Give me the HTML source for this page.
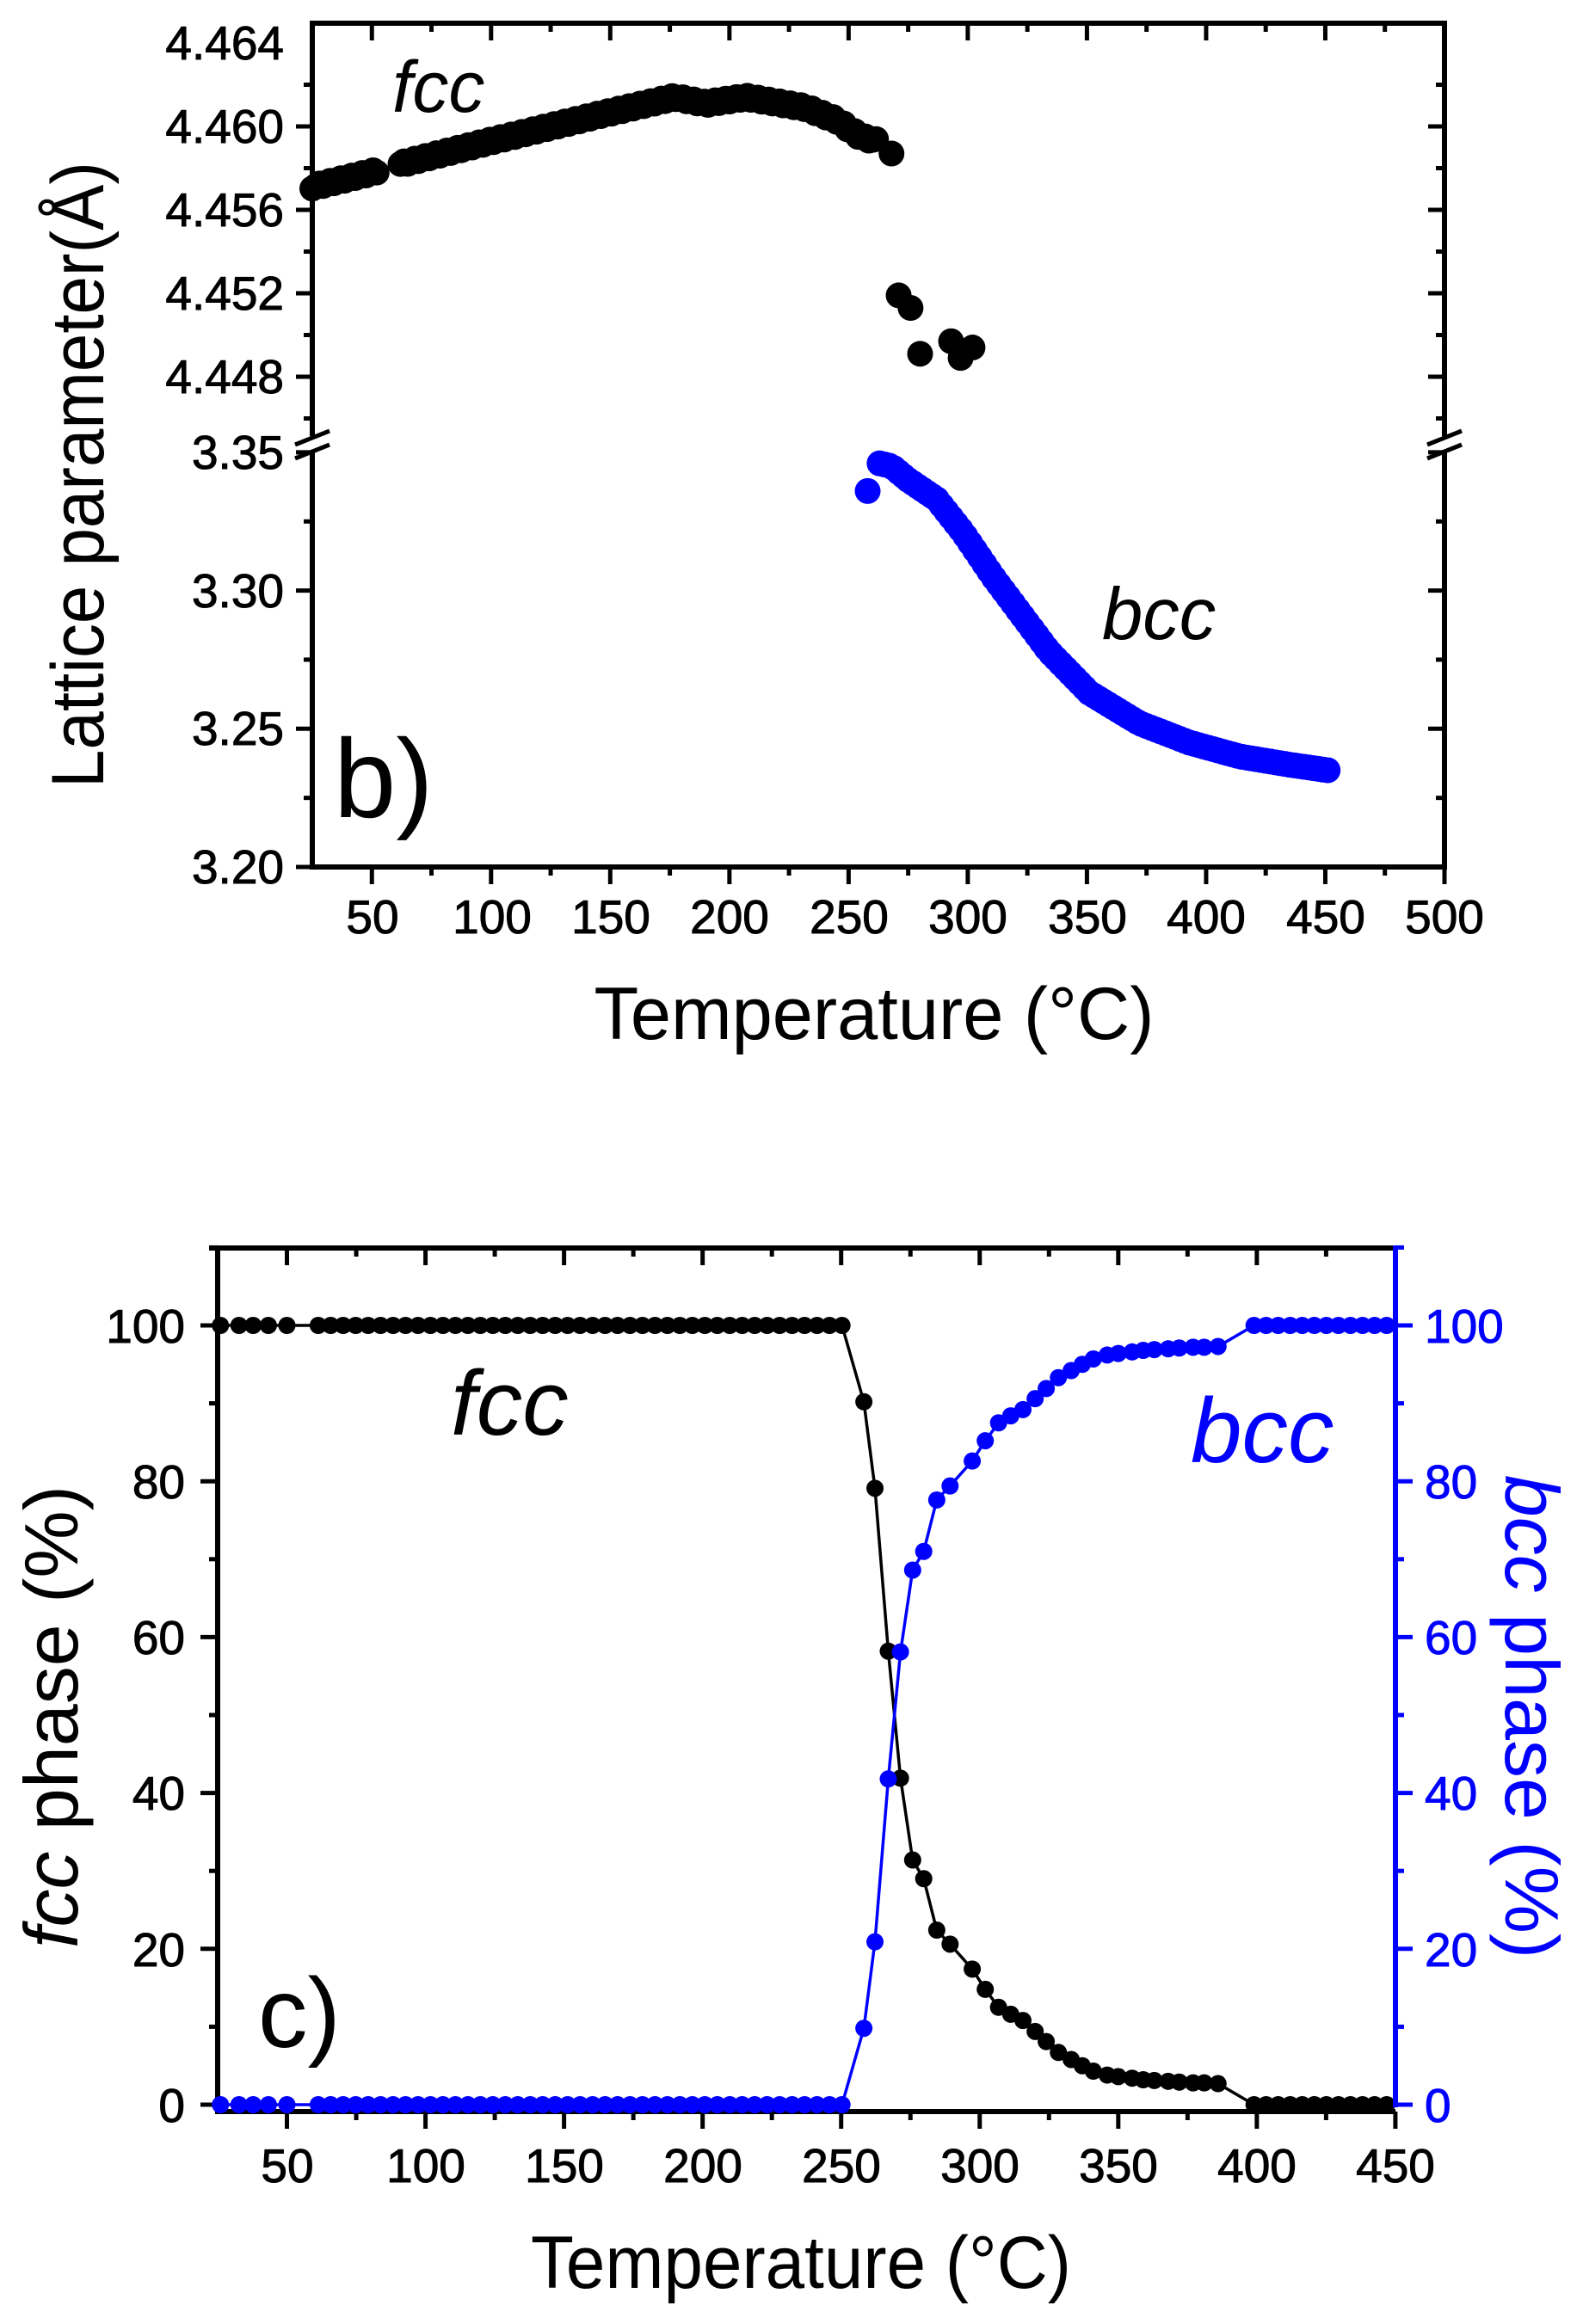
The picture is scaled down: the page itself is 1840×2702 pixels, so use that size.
<!DOCTYPE html>
<html><head><meta charset="utf-8"><style>
html,body{margin:0;padding:0;background:#fff;}
svg{display:block;font-family:"Liberation Sans",sans-serif;}
</style></head><body>
<svg id="s" width="1840" height="2702" viewBox="0 0 1840 2702" xmlns="http://www.w3.org/2000/svg">
<rect width="1840" height="2702" fill="#fff"/>
<g id="g"></g>
<!-- top plot text -->
<g font-size="55" fill="#000" stroke="#000" stroke-width="1" text-anchor="end">
<text x="330" y="69">4.464</text>
<text x="330" y="166">4.460</text>
<text x="330" y="263">4.456</text>
<text x="330" y="360">4.452</text>
<text x="330" y="457">4.448</text>
<text x="330" y="545">3.35</text>
<text x="330" y="706">3.30</text>
<text x="330" y="866">3.25</text>
<text x="330" y="1027">3.20</text>
</g>
<g font-size="55" fill="#000" stroke="#000" stroke-width="1" text-anchor="middle">
<text x="433" y="1085">50</text><text x="572" y="1085">100</text><text x="710" y="1085">150</text>
<text x="848" y="1085">200</text><text x="987" y="1085">250</text><text x="1125" y="1085">300</text>
<text x="1264" y="1085">350</text><text x="1402" y="1085">400</text><text x="1541" y="1085">450</text>
<text x="1679" y="1085">500</text>
</g>
<text x="1016" y="1208" font-size="86" text-anchor="middle" textLength="651" lengthAdjust="spacingAndGlyphs">Temperature (°C)</text>
<text transform="translate(120,552) rotate(-90)" font-size="86" text-anchor="middle" textLength="728" lengthAdjust="spacingAndGlyphs">Lattice parameter(Å)</text>
<text x="456" y="130" font-size="84" font-style="italic">fcc</text>
<text x="1281" y="743" font-size="85" font-style="italic">bcc</text>
<text x="388" y="950" font-size="130">b)</text>
<!-- bottom plot text -->
<g font-size="55" fill="#000" stroke="#000" stroke-width="1" text-anchor="end">
<text x="215" y="1561">100</text><text x="215" y="1742">80</text><text x="215" y="1923">60</text>
<text x="215" y="2104">40</text><text x="215" y="2286">20</text><text x="215" y="2467">0</text>
</g>
<g font-size="55" fill="#00f" stroke="#00f" stroke-width="1">
<text x="1656" y="1561">100</text><text x="1656" y="1742">80</text><text x="1656" y="1923">60</text>
<text x="1656" y="2104">40</text><text x="1656" y="2286">20</text><text x="1656" y="2467">0</text>
</g>
<g font-size="55" fill="#000" stroke="#000" stroke-width="1" text-anchor="middle">
<text x="334" y="2537">50</text><text x="495" y="2537">100</text><text x="656" y="2537">150</text>
<text x="817" y="2537">200</text><text x="978" y="2537">250</text><text x="1139" y="2537">300</text>
<text x="1300" y="2537">350</text><text x="1461" y="2537">400</text><text x="1622" y="2537">450</text>
</g>
<text x="931" y="2660" font-size="86" text-anchor="middle" textLength="628" lengthAdjust="spacingAndGlyphs">Temperature (°C)</text>
<text transform="translate(90,1996) rotate(-90)" font-size="88" text-anchor="middle"><tspan font-style="italic">fcc</tspan> phase (%)</text>
<text transform="translate(1750,1996) rotate(90)" font-size="88" text-anchor="middle" fill="#00f"><tspan font-style="italic">bcc</tspan> phase (%)</text>
<text x="524" y="1668" font-size="107" font-style="italic">fcc</text>
<text x="1384" y="1700" font-size="107" font-style="italic" fill="#00f">bcc</text>
<text x="300" y="2380" font-size="115">c)</text>
</svg>
<script>
var g=document.getElementById('g'),NS="http://www.w3.org/2000/svg";
function el(t,a){var e=document.createElementNS(NS,t);for(var k in a)e.setAttribute(k,a[k]);g.appendChild(e);return e;}
function ln(x1,y1,x2,y2,c,w){el('line',{x1:x1,y1:y1,x2:x2,y2:y2,stroke:c||'#000','stroke-width':w||6});}
function interp(pts,t){for(var i=0;i<pts.length-1;i++){if(t<=pts[i+1][0]){var a=pts[i],b=pts[i+1];return a[1]+(b[1]-a[1])*(t-a[0])/(b[0]-a[0]);}}return pts[pts.length-1][1];}
var L=363,R=1679,T=27,B=1008;
function X(t){return L+(t-25)*2.7705;}
function YH(v){return 147-(v-4.460)/0.004*97;}
function YL(v){return 1008-(v-3.20)/0.05*160.7;}
var fcc=[[25,4.4571],[50,4.4578],[62,4.4582],[100,4.4593],[147,4.4606],[177,4.4614],[190,4.4611],[207,4.4614],[232,4.4609],[245,4.4603],[255,4.4595],[262,4.4593]];
var k=0;
for(var t=25;t<=52;t+=1.5){el('circle',{cx:X(t),cy:YH(interp(fcc,t)+(k%3-1)*0.00008),r:15,fill:'#000'});k++;}
for(var t=62;t<=262;t+=1.5){el('circle',{cx:X(t),cy:YH(interp(fcc,t)+(k%3-1)*0.00008),r:15,fill:'#000'});k++;}
[[268,4.4587],[271,4.4519],[276,4.4513],[280,4.4491],[293,4.4497],[297,4.4489],[302,4.4494]].forEach(function(p){el('circle',{cx:X(p[0]),cy:YH(p[1]),r:15,fill:'#000'});});
var bcc=[[263,3.346],[268,3.345],[275,3.340],[287,3.333],[298,3.321],[310.6,3.305],[321,3.293],[334,3.278],[351,3.263],[372,3.252],[393,3.245],[414,3.240],[435,3.237],[451,3.235]];
el('circle',{cx:X(258),cy:YL(3.336),r:15,fill:'#00f'});
for(var t=263;t<=451;t+=2)el('circle',{cx:X(t),cy:YL(interp(bcc,t)),r:15,fill:'#00f'});
ln(L-3,T,R+3,T);ln(L-3,B,R+3,B);
ln(L,T,L,507);ln(L,525,L,B);ln(R,T,R,507);ln(R,525,R,B);
[L,R].forEach(function(x){ln(x-20,517,x+20,501,'#000',5);ln(x-20,533,x+20,517,'#000',5);});
for(var t=50;t<=500;t+=25){var maj=(t%50==0);ln(X(t),B,X(t),B+(maj?20:10),'#000',5);ln(X(t),T,X(t),T+(maj?20:10),'#000',5);}
for(var i=0;i<=8;i++){var vv=4.446+i*0.002,y=YH(vv),maj=(i%2==1);ln(L-(maj?19:10),y,L,y,'#000',5);ln(R,y,R-(maj?19:10),y,'#000',5);}
for(var i=0;i<=6;i++){var vv=3.20+i*0.025,y=YL(vv),maj=(i%2==0);ln(L-(maj?19:10),y,L,y,'#000',5);ln(R,y,R-(maj?19:10),y,'#000',5);}
var L2=253,R2=1622,T2=1451,B2=2455;
function X2(t){return L2+(t-25)*3.221;}
function Y2(v){return 2447-v*9.06;}
ln(L2-10,T2,R2,T2);ln(L2,T2,L2,B2+3);ln(L2,B2,R2,B2);
for(var t=50;t<=450;t+=25){var maj=(t%50==0);ln(X2(t),B2,X2(t),B2+(maj?20:10),'#000',5);ln(X2(t),T2,X2(t),T2+(maj?20:10),'#000',5);}
for(var v=0;v<=110;v+=10){var y=Y2(v),maj=(v%20==0);ln(L2-(maj?20:10),y,L2,y,'#000',5);}
var tail=[[258.2,90.2],[262.2,79.1],[267,58.2],[271.4,41.9],[275.8,31.4],[279.8,29],[284.5,22.4],[289.3,20.6],[297.3,17.4],[302,14.8],[306.8,12.5],[311.2,11.6],[315.6,10.8],[320,9.4],[324,8.1],[328.4,6.7],[333,5.8],[337,5.0],[341,4.3],[346,3.8],[350,3.6],[355,3.4],[359,3.2],[363,3.1],[368,3.0],[372,2.9],[377,2.8],[381,2.8],[386,2.7]];
var F=[];
[26,32.7,37.8,43.3,50].forEach(function(t){F.push([t,100]);});
for(var t=61.3;t<=254;t+=4.5)F.push([t,100]);
F=F.concat(tail);
for(var t=399;t<=451;t+=4.35)F.push([t,0]);
function path(c){var d='';for(var i=0;i<F.length;i++){var t=F[i][0],v=c?100-F[i][1]:F[i][1];d+=(i?'L':'M')+X2(t).toFixed(1)+','+Y2(v).toFixed(1);}el('path',{d:d,fill:'none',stroke:c?'#00f':'#000','stroke-width':3.5});}
path(0);path(1);
F.forEach(function(p){el('circle',{cx:X2(p[0]),cy:Y2(p[1]),r:10,fill:'#000'});});
F.forEach(function(p){el('circle',{cx:X2(p[0]),cy:Y2(100-p[1]),r:10,fill:'#00f'});});
ln(R2,T2-3,R2,2450,'#00f',6);
for(var v=0;v<=110;v+=10){var y=Y2(v),maj=(v%20==0);ln(R2,y,R2+(maj?20:10),y,'#00f',5);}
</script>
</body></html>
